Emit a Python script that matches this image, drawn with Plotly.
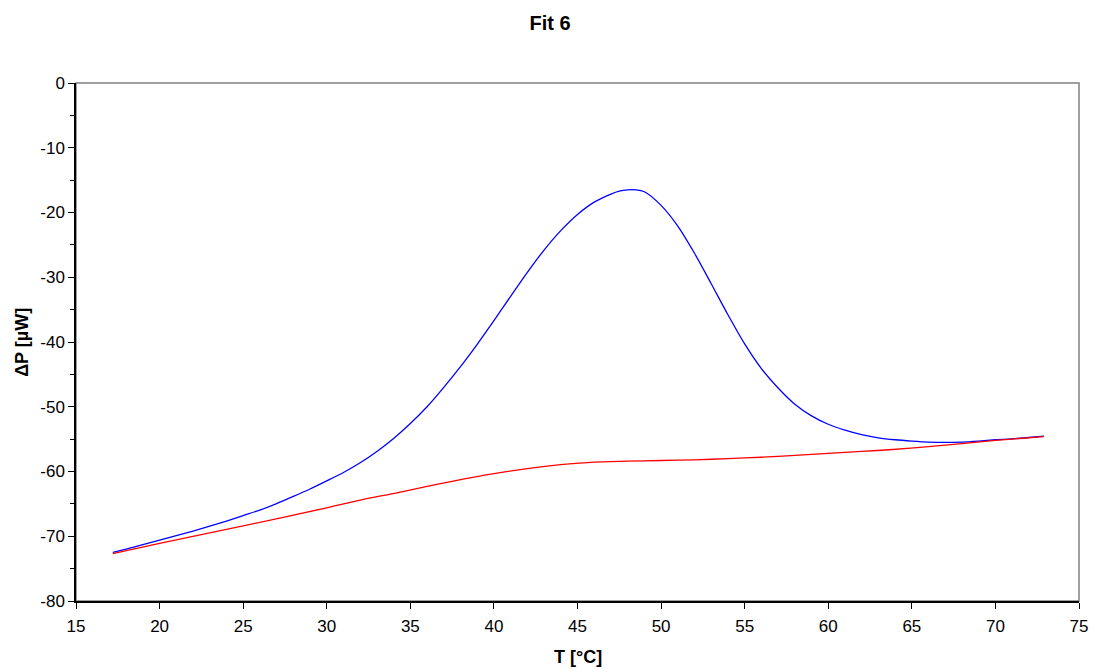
import plotly.graph_objects as go

# Measured DSC trace (blue) and fitted baseline (red)
t_meas = [17.2, 18, 19, 20, 21, 22, 23, 24, 25, 26, 27, 28, 29, 30, 31, 32, 33, 34, 35,
          36, 37, 38, 39, 40, 41, 42, 43, 44, 45, 46, 47, 47.5, 48, 48.5, 49, 50, 51, 52,
          53, 54, 55, 56, 57, 58, 59, 60, 61, 62, 63, 64, 65, 66, 67, 68, 69, 70, 71, 72,
          72.9]
dp_meas = [-72.5, -72.0, -71.3, -70.6, -69.9, -69.2, -68.45, -67.65, -66.8, -65.95,
           -64.95, -63.85, -62.7, -61.45, -60.15, -58.65, -56.9, -54.9, -52.6, -50.0,
           -47.0, -43.8, -40.35, -36.7, -32.95, -29.25, -25.8, -22.8, -20.3, -18.4,
           -17.15, -16.7, -16.5, -16.5, -16.8, -18.9, -22.1, -26.3, -31.0, -35.8, -40.3,
           -44.1, -47.1, -49.6, -51.4, -52.7, -53.6, -54.3, -54.8, -55.1, -55.3, -55.45,
           -55.5, -55.45, -55.3, -55.1, -54.95, -54.75, -54.55]

t_base = [17.2, 20, 25, 30, 32.2, 34.2, 36, 38, 40.1, 42, 44, 45.1, 46, 48, 50, 52, 54,
          56, 58, 60, 62, 63.85, 66, 68, 70, 72.9]
dp_base = [-72.7, -71.1, -68.4, -65.6, -64.3, -63.3, -62.3, -61.25, -60.3, -59.55, -58.95,
           -58.7, -58.55, -58.4, -58.3, -58.2, -58.0, -57.8, -57.5, -57.2, -56.9, -56.6,
           -56.15, -55.7, -55.2, -54.6]

x_ticks = [15, 20, 25, 30, 35, 40, 45, 50, 55, 60, 65, 70, 75]
y_ticks = [0, -10, -20, -30, -40, -50, -60, -70, -80]

FONT = "Liberation Sans, Arial, sans-serif"

fig = go.Figure()
fig.add_trace(go.Scatter(x=t_meas, y=dp_meas, mode="lines",
                         line=dict(color="#0000FF", width=1.3, shape="spline", smoothing=0.8),
                         showlegend=False))
fig.add_trace(go.Scatter(x=t_base, y=dp_base, mode="lines",
                         line=dict(color="#FF0000", width=1.3, shape="spline", smoothing=0.8),
                         showlegend=False))

# gray frame around the plot area; black left/bottom axis lines sit on top
fig.add_shape(type="rect", xref="paper", yref="paper", x0=0, y0=0, x1=1, y1=1,
              line=dict(color="#808080", width=1.5), layer="below")

# axis titles
fig.add_annotation(text="<b>T [°C]</b>", xref="paper", yref="paper", x=0.5, y=-0.108,
                   xanchor="center", yanchor="middle", showarrow=False,
                   font=dict(family=FONT, size=18, color="black"))
fig.add_annotation(text="<b>ΔP [µW]</b>", xref="paper", yref="paper", x=-0.054, y=0.5,
                   xanchor="center", yanchor="middle", showarrow=False, textangle=-90,
                   font=dict(family=FONT, size=18, color="black"))

fig.update_layout(
    width=1100, height=669,
    margin=dict(l=76, r=12, t=83, b=68),
    paper_bgcolor="white", plot_bgcolor="white",
    font=dict(family=FONT, size=17, color="black"),
    title=dict(text="<b>Fit 6</b>", x=0.5, xanchor="center", y=0.9656, yanchor="middle",
               font=dict(family=FONT, size=20, color="black")),
    xaxis=dict(range=[15, 75], tickvals=x_ticks, ticktext=[str(v) for v in x_ticks],
               showgrid=False, zeroline=False, showline=True, linecolor="black",
               linewidth=1.5, ticks="outside", ticklen=6, tickwidth=1, tickcolor="black",
               ticklabelstandoff=3, tickfont=dict(family=FONT, size=17)),
    yaxis=dict(range=[-80, 0], tickvals=y_ticks, ticktext=[str(v) for v in y_ticks],
               showgrid=False, zeroline=False, showline=True, linecolor="black",
               linewidth=1.5, ticks="outside", ticklen=6, tickwidth=1, tickcolor="black",
               tickfont=dict(family=FONT, size=17),
               minor=dict(dtick=5, ticks="outside", ticklen=4, tickcolor="black", showgrid=False)),
)

fig.write_html("out.html")
